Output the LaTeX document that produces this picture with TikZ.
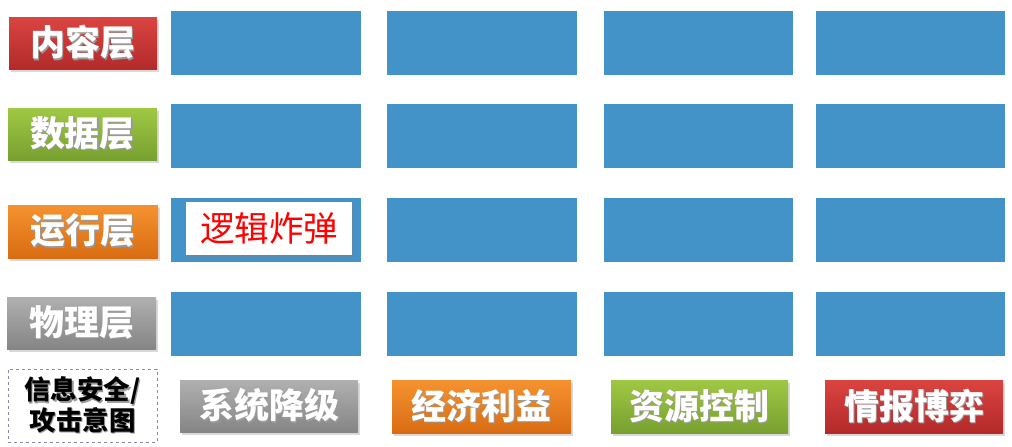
\documentclass[tikz,border=0pt]{standalone}
\usepackage{fontspec}
\usetikzlibrary{shadows}
\newfontfamily\cjk{Noto Sans CJK SC}
\definecolor{cblue}{HTML}{4393C9}
\definecolor{redT}{HTML}{DA4441}
\definecolor{redB}{HTML}{B32A2A}
\definecolor{grnT}{HTML}{A0C844}
\definecolor{grnB}{HTML}{77A030}
\definecolor{orgT}{HTML}{F59230}
\definecolor{orgB}{HTML}{D96C12}
\definecolor{gryT}{HTML}{B0B0B0}
\definecolor{gryB}{HTML}{858585}
\definecolor{dashc}{HTML}{8A8AA8}
\newcommand\shtxt[1]{\makebox[0pt][l]{\hspace{1.3pt}\raisebox{-1.5pt}{\color{black!40}#1}}#1}
\begin{document}
\begin{tikzpicture}[x=1pt,y=-1pt,
  lab/.style={rectangle,inner sep=0pt,text=white,font=\cjk\bfseries\fontsize{35}{40}\selectfont,
    drop shadow={shadow xshift=2pt,shadow yshift=-3pt,opacity=0.3}},
  blu/.style={rectangle,inner sep=0pt,fill=cblue},
  redbox/.style={lab,top color=redT,bottom color=redB},
  grnbox/.style={lab,top color=grnT,bottom color=grnB},
  orgbox/.style={lab,top color=orgT,bottom color=orgB},
  grybox/.style={lab,top color=gryT,bottom color=gryB}]
\useasboundingbox (0,0) rectangle (1012,447);
% left labels
\node[redbox,minimum width=148pt,minimum height=52pt] (l1) at (83,43) {\shtxt{内容层}};
\node[grnbox,minimum width=149pt,minimum height=52pt] (l2) at (82.5,134) {\shtxt{数据层}};
\node[orgbox,minimum width=150pt,minimum height=53pt] (l3) at (83,231.5) {\shtxt{运行层}};
\node[grybox,minimum width=149pt,minimum height=52pt] (l4) at (81.5,323) {\shtxt{物理层}};
\node[rectangle,draw=dashc,dashed,line width=0.8pt,minimum width=149pt,minimum height=73pt,inner sep=0pt,
  align=center,font=\cjk\bfseries\fontsize{26.5}{28}\selectfont] (l5) at (82.5,405.5)
  {\shtxt{信息安全/}\\\shtxt{攻击意图}};
% blue grid
\foreach \c/\xa/\xb in {1/171/361,2/387/577,3/604/793,4/816/1005}{
  \foreach \r/\ya/\yb in {1/11/75,2/104/168,3/198/262,4/292/356}{
    \node[blu,minimum width={\xb-\xa},minimum height={\yb-\ya}] (b\r\c) at ({(\xa+\xb)/2},{(\ya+\yb)/2}) {};
  }
}
% logic bomb
\node[rectangle,fill=white,inner sep=0pt,minimum width=166pt,minimum height=53pt,text=red,
  font=\cjk\fontsize{34.5}{40}\selectfont,
  drop shadow={shadow xshift=2pt,shadow yshift=-2pt,opacity=0.4}] (lb) at (269,228.5) {逻辑炸弹};
% bottom labels
\node[grybox,minimum width=178pt,minimum height=52pt] (g1) at (269,406) {\shtxt{系统降级}};
\node[orgbox,minimum width=179pt,minimum height=53pt] (g2) at (481.5,406.5) {\shtxt{经济利益}};
\node[grnbox,minimum width=177pt,minimum height=53pt] (g3) at (699.5,406.5) {\shtxt{资源控制}};
\node[redbox,minimum width=178pt,minimum height=53pt] (g4) at (914,406.5) {\shtxt{情报博弈}};
\end{tikzpicture}
\end{document}
